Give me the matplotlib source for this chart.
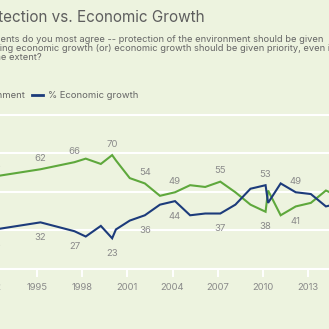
import matplotlib
matplotlib.use("Agg")
import matplotlib.pyplot as plt
from matplotlib.lines import Line2D
import numpy as np

# ---------------- data ----------------
dates = ["1992-04", "1995-04", "1997-07", "1998-04", "1999-04", "2000-01", "2000-04",
         "2001-03", "2002-03", "2003-03", "2004-03", "2005-03", "2006-03", "2007-03",
         "2008-03", "2009-03", "2010-03", "2010-05", "2011-03", "2012-03", "2013-03",
         "2014-03", "2015-03"]
env = [58, 62, 66, 68, 65, 70, 67, 57, 54, 47, 49, 53, 52, 55, 49, 42, 38, 50, 36, 41, 43, 50, 46]
econ = [28, 32, 27, 24, 30, 23, 28, 33, 36, 42, 44, 36, 37, 37, 42, 51, 53, 43, 54, 49, 48, 41, 43]
label_dates = ["1992-04", "1995-04", "1997-07", "2000-01", "2002-03", "2004-03",
               "2007-03", "2010-03", "2012-03"]
tick_years = [1992, 1995, 1998, 2001, 2004, 2007, 2010, 2013, 2016]
series_names = ["% Protection of the environment", "% Economic growth"]
title = "Environmental Protection vs. Economic Growth"
question = ["With which one of these statements do you most agree -- protection of the environment should be given",
            "priority, even at the risk of curbing economic growth (or) economic growth should be given priority, even if the",
            "environment suffers to some extent?"]

# ---------------- style ----------------
plt.rcParams['font.family'] = ['Inter', 'DejaVu Sans']
BG = "#EDF3DF"
GREEN = "#5EA83C"
BLUE = "#1C3B7B"
W = H = 329


def to_year(s):
    y, m = s.split("-")
    return int(y) + (int(m) - 1) / 12.0


def fx(p):
    return p / W


def fy(p):  # pixel from top -> figure fraction
    return 1 - p / H


x = np.array([to_year(d) for d in dates])

fig = plt.figure(figsize=(3.29, 3.29), dpi=100)
fig.patch.set_facecolor(BG)

# axes geometry (pixels)
PPY = 15.09          # pixels per year
X1995 = 36.7         # pixel position of 1995 tick
L, R = -60, 389
YLO, STEP = 5.65, 21.8
PPU = 1.77           # pixels per percentage point
ytop = YLO + 4 * STEP + 1.5
ax_h = (ytop - YLO) * PPU
ax = fig.add_axes([fx(L), fy(269), (R - L) / W, ax_h / H])
ax.set_facecolor(BG)
ax.set_xlim(1995 + (L - X1995) / PPY, 1995 + (R - X1995) / PPY)
ax.set_ylim(YLO, ytop)

ax.set_yticks([YLO + k * STEP for k in range(5)])
ax.yaxis.grid(True, color="white", lw=1.5)
ax.set_axisbelow(True)
ax.tick_params(axis="y", length=0, labelleft=False)
for s in ["top", "left", "right"]:
    ax.spines[s].set_visible(False)
ax.spines["bottom"].set_color("white")
ax.spines["bottom"].set_linewidth(1.5)
ax.set_xticks(tick_years)
ax.set_xticklabels([str(t) for t in tick_years])
ax.tick_params(axis="x", length=6, width=1.4, color="white", labelcolor="#8a8a8a",
               labelsize=6.8, pad=4)

ax.plot(x, env, color=GREEN, lw=1.5, solid_joinstyle="miter")
ax.plot(x, econ, color=BLUE, lw=1.5, solid_joinstyle="miter")

for d in label_dates:
    i = dates.index(d)
    hi, lo = max(env[i], econ[i]), min(env[i], econ[i])
    ax.annotate(str(hi), (x[i], hi), xytext=(0, 7.9), textcoords="offset points",
                ha="center", va="center", fontsize=6.9, color="#8a8a8a")
    ax.annotate(str(lo), (x[i], lo), xytext=(0, -10.8), textcoords="offset points",
                ha="center", va="center", fontsize=6.9, color="#8a8a8a")

# ---------------- texts ----------------
fig.text(fx(205), fy(22), title, ha="right", va="baseline", fontsize=11.0, color="#5e5e5e")

renderer = fig.canvas.get_renderer()
t1 = fig.text(fx(323), fy(41.5), question[0], ha="right", va="baseline", fontsize=6.7, color="#666666")
left = t1.get_window_extent(renderer).x0 / W
fig.text(left, fy(51), question[1], ha="left", va="baseline", fontsize=6.7, color="#666666")
fig.text(fx(42), fy(60.5), question[2], ha="right", va="baseline", fontsize=6.7, color="#666666")

# legend
fig.add_artist(Line2D([fx(32), fx(43)], [fy(95), fy(95)], color=BLUE, lw=2))
fig.text(fx(48), fy(95), series_names[1], ha="left", va="center", fontsize=6.8, color="#666666")
fig.text(fx(25), fy(95), series_names[0], ha="right", va="center", fontsize=6.8, color="#666666")

fig.savefig("out.png", dpi=100, facecolor=BG)
